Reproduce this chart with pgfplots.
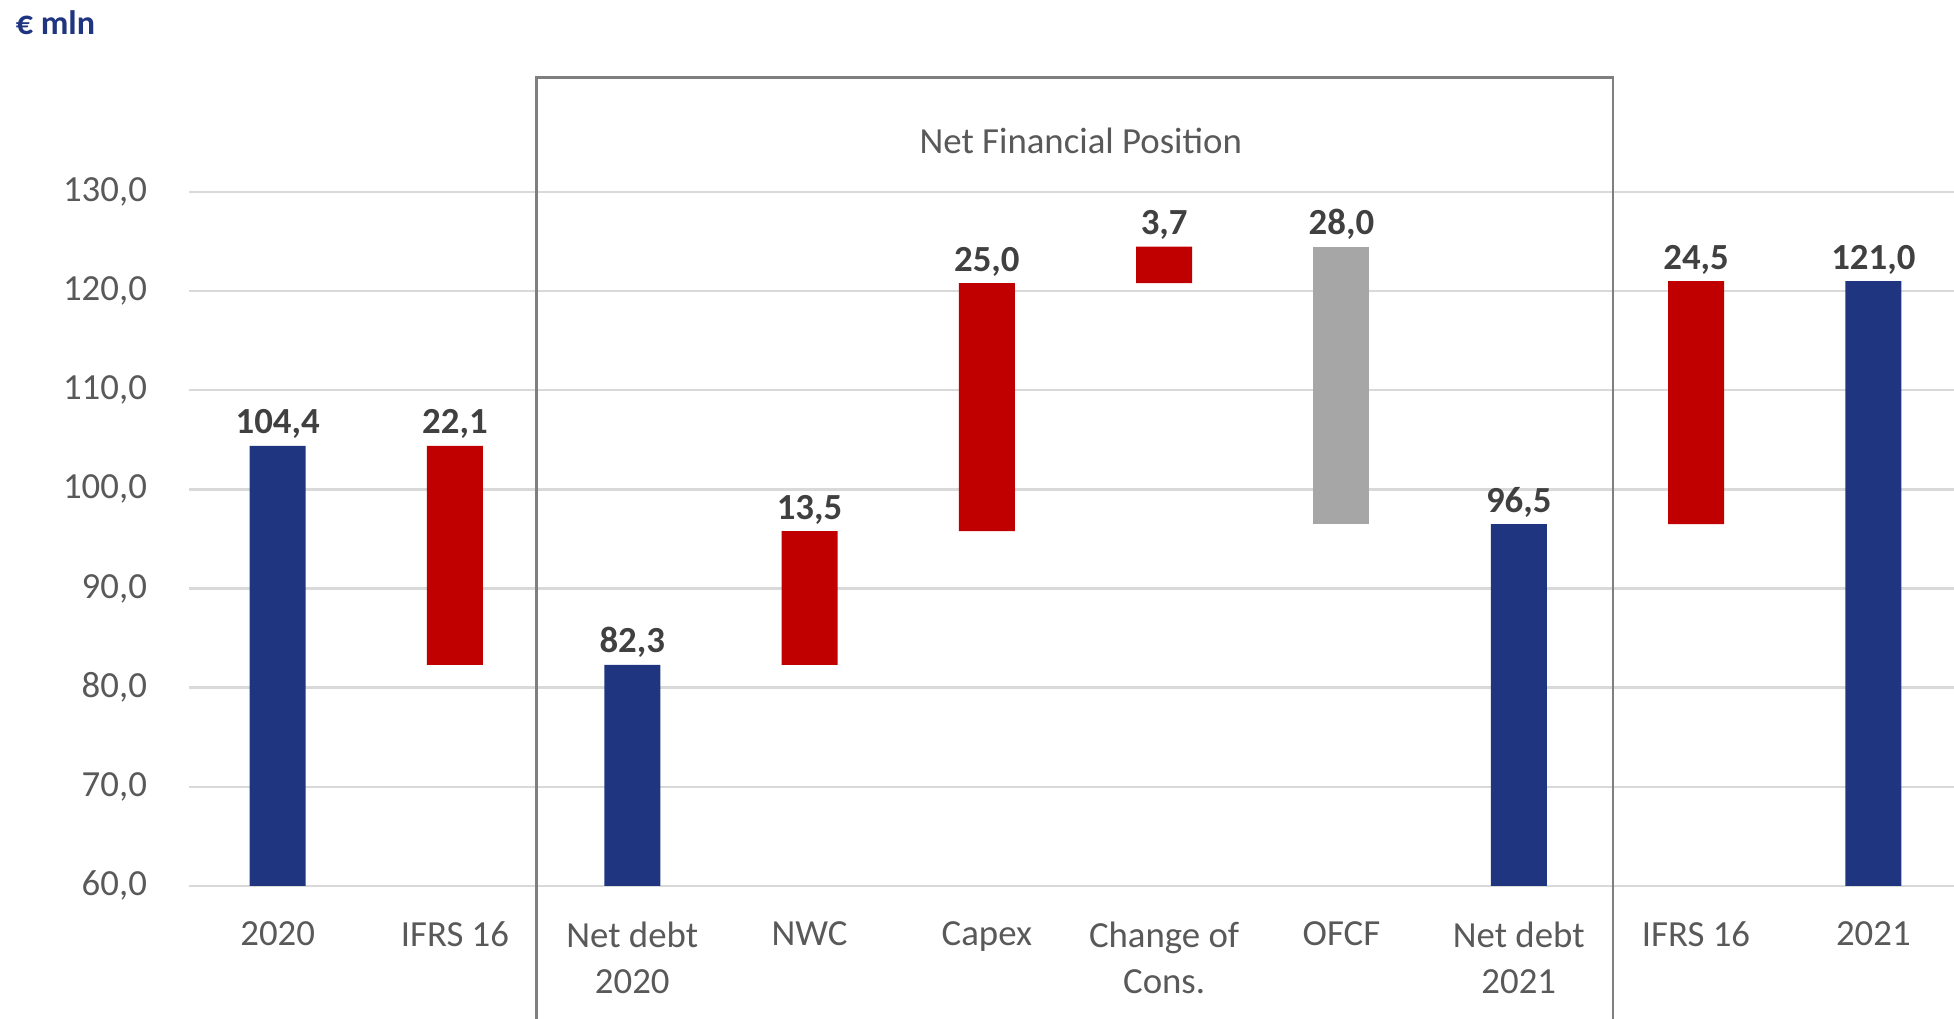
\documentclass[border=0pt]{standalone}
\usepackage{fontspec}
\setmainfont{Carlito}
\usepackage{pgfplots}
\usepackage{pgfplotstable}
\pgfplotsset{compat=1.18}

\definecolor{navy}{HTML}{1F3580}
\definecolor{redbar}{HTML}{C00000}
\definecolor{graybar}{HTML}{A6A6A6}
\definecolor{txt}{HTML}{595959}
\definecolor{lbl}{HTML}{404040}
\definecolor{gridc}{HTML}{D9D9D9}
\definecolor{boxc}{HTML}{7F7F7F}

% waterfall: invisible base + visible segment; tot = top of bar, lab = value shown
\pgfplotstableread{
x base blue red gray tot lab
0 0 104.4 0 0 104.4 104,4
1 82.3 0 22.1 0 104.4 22,1
2 0 82.3 0 0 82.3 82,3
3 82.3 0 13.5 0 95.8 13,5
4 95.8 0 25.0 0 120.8 25,0
5 120.8 0 3.7 0 124.5 3,7
6 96.5 0 0 28.0 124.5 28,0
7 0 96.5 0 0 96.5 96,5
8 96.5 0 24.5 0 121.0 24,5
9 0 121.0 0 0 121.0 121,0
}\wf

\pgfplotsset{common/.style={
  width=443.3pt,height=173.5pt,scale only axis,
  xmin=-0.5,xmax=9.5,ymin=60,ymax=130}}

\begin{document}
\begin{tikzpicture}
\begin{axis}[
  common,
  ybar stacked,bar width=14pt,
  ytick={60,70,...,130},xtick={0,...,9},
  xticklabels={2020,IFRS 16,{Net debt\\2020},NWC,Capex,{Change of\\Cons.},OFCF,{Net debt\\2021},IFRS 16,2021},
  major tick length=0pt,
  axis line style={draw=none},
  ymajorgrids,grid style={gridc,line width=0.6pt},
  tick label style={txt,font=\fontsize{9.2}{11.6}\selectfont},
  xticklabel style={align=center,yshift=-5.5pt},
  yticklabel style={xshift=-7pt},
  /pgf/number format/.cd,use comma,fixed,fixed zerofill,precision=1,assume math mode=true,
]
\addplot[draw=none,fill=none] table[x=x,y=base]{\wf};
\addplot[draw=none,fill=navy] table[x=x,y=blue]{\wf};
\addplot[draw=none,fill=redbar] table[x=x,y=red]{\wf};
\addplot[draw=none,fill=graybar] table[x=x,y=gray]{\wf};
\end{axis}
\begin{axis}[common,hide axis,clip=false]
\addplot[draw=none,no markers,nodes near coords,point meta=explicit symbolic,
  every node near coord/.append style={lbl,anchor=south,yshift=-1.8pt,font=\fontsize{9.2}{11}\selectfont\bfseries}]
  table[x=x,y=tot,meta=lab]{\wf};
\draw[boxc,line width=0.6pt] (axis cs:1.46,30) |- (axis cs:7.53,141.56) -- (axis cs:7.53,30);
\node[txt,font=\fontsize{9.2}{11}\selectfont] at (axis cs:4.53,135.15) {Net Financial Position};
\node[navy,anchor=base west,inner sep=0pt,font=\fontsize{8.5}{10}\selectfont\bfseries] at (axis cs:-1.481,145.84) {€ mln};
\coordinate (bl) at (axis cs:-1.566,46.58);
\coordinate (tr) at (axis cs:9.455,149.37);
\end{axis}
\pgfresetboundingbox
\useasboundingbox (bl) rectangle (tr);
\end{tikzpicture}
\end{document}
